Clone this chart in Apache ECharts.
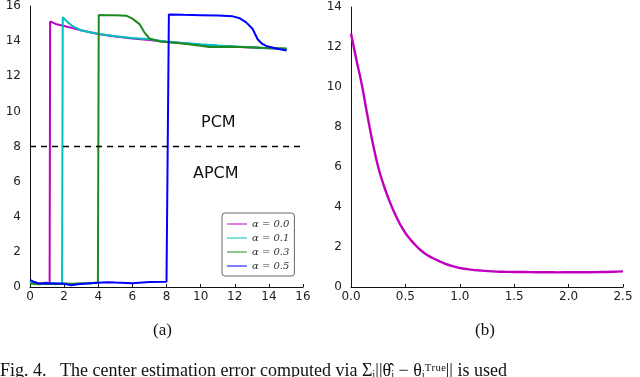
<!DOCTYPE html>
<html><head><meta charset="utf-8">
<script src="https://cdn.jsdelivr.net/npm/echarts@6/dist/echarts.min.js"></script>
<style>html,body{margin:0;padding:0;background:#fff}#c{width:640px;height:377px}</style>
</head><body><div id="c"></div>
<script>
// Left panel (a)
const seriesNames = ['α = 0.0', 'α = 0.1', 'α = 0.3', 'α = 0.5'];
const seriesColors = ['#bf00bf', '#00bfbf', '#1e8a1e', '#0000ff'];
const alpha00 = [[0,0.3],[0.3,0.25],[0.6,0.2],[1.0,0.25],[1.15,0.22],[1.18,15.12],[1.5,14.98],[2.0,14.86],[2.5,14.74],[2.97,14.62],[4,14.4],[5,14.26],[6,14.15],[7,14.07],[8,13.96],[9,13.88],[10,13.8],[11,13.73],[12,13.68],[13,13.64],[14,13.59],[15.04,13.55]];
const alpha01 = [[0,0.3],[0.4,0.2],[0.8,0.18],[1.2,0.22],[1.6,0.2],[1.88,0.2],[1.92,15.37],[2.2,15.08],[2.5,14.85],[2.97,14.62],[3.5,14.5],[4.07,14.4],[5,14.28],[6,14.18],[7,14.1],[8,13.98],[9,13.9],[10,13.82],[11,13.75],[12,13.7],[13,13.65],[14,13.6],[15.04,13.55]];
const alpha03 = [[0,0.2],[0.5,0.15],[1.0,0.18],[1.5,0.15],[2.0,0.2],[2.5,0.18],[3.0,0.22],[3.5,0.2],[3.98,0.25],[4.03,15.49],[4.5,15.48],[5.0,15.48],[5.64,15.45],[6.0,15.28],[6.42,14.97],[6.7,14.5],[7.0,14.15],[7.6,13.98],[8.95,13.87],[10.1,13.72],[10.2,13.64],[10.5,13.66],[10.6,13.72],[11.9,13.68],[13.5,13.62],[15.04,13.58]];
const alpha05 = [[0,0.4],[0.2,0.3],[0.5,0.2],[1.0,0.22],[1.5,0.2],[2.0,0.18],[2.4,0.1],[2.8,0.15],[3.5,0.22],[4.5,0.27],[5.0,0.25],[6.0,0.22],[7.0,0.28],[8.0,0.3],[8.1,0.3],[8.14,15.52],[9,15.5],[10,15.48],[11,15.46],[11.88,15.41],[12.3,15.3],[12.67,15.07],[13.05,14.69],[13.34,14.11],[13.6,13.85],[13.84,13.73],[14.43,13.58],[15.04,13.47]];
const thresholdLine = [[0,8],[16,8]];

// Right panel (b)
const decayX = [0,0.05,0.1,0.15,0.2,0.25,0.3,0.35,0.4,0.45,0.5,0.55,0.6,0.65,0.7,0.75,0.8,0.85,0.9,0.95,1.0,1.1,1.2,1.3,1.4,1.5,1.6,1.7,1.8,1.9,2.0,2.1,2.2,2.3,2.4,2.5];
const decayY = [12.68,11.35,10.1,8.6,7.2,6.0,5.1,4.35,3.7,3.15,2.7,2.35,2.05,1.8,1.6,1.45,1.32,1.2,1.1,1.02,0.95,0.87,0.82,0.78,0.76,0.75,0.75,0.74,0.74,0.73,0.74,0.74,0.74,0.75,0.76,0.78];

const chart = echarts.init(document.getElementById('c'));
const axisLabel = {color:'#222', fontFamily:'DejaVu Sans', fontSize:12};
const axisLine = {show:true, onZero:false, lineStyle:{color:'#111', width:1}};
const axisTick = {show:true, inside:true, length:3, lineStyle:{color:'#111'}};
const data4 = [alpha00, alpha01, alpha03, alpha05];

const series = data4.map((d,i)=>({
  name: seriesNames[i], type:'line', xAxisIndex:0, yAxisIndex:0, data:d,
  symbol:'circle', symbolSize:2, showSymbol:false, animation:false,
  lineStyle:{color:seriesColors[i], width:2}, itemStyle:{color:seriesColors[i]}, z:2+i
}));
series.push({type:'line', xAxisIndex:0, yAxisIndex:0, data:thresholdLine, symbol:'none', animation:false,
  lineStyle:{color:'#000', width:1.5, type:[6,5]}, z:10, silent:true});
series.push({type:'line', xAxisIndex:1, yAxisIndex:1, data:decayX.map((x,i)=>[x,decayY[i]]),
  symbol:'none', smooth:true, animation:false, lineStyle:{color:'#c000c0', width:2.4}});

chart.setOption({
  backgroundColor:'#fff',
  animation:false,
  grid:[
    {left:30, top:6, width:273, height:281},
    {left:351, top:7, width:272, height:280}
  ],
  xAxis:[
    {gridIndex:0, type:'value', min:0, max:16, interval:2, axisLine, axisTick, splitLine:{show:false}, axisLabel:{...axisLabel, margin:4}},
    {gridIndex:1, type:'value', min:0, max:2.5, interval:0.5, axisLine, axisTick, splitLine:{show:false},
      axisLabel:{...axisLabel, margin:4, formatter:v=>v.toFixed(1)}}
  ],
  yAxis:[
    {gridIndex:0, type:'value', min:0, max:16, interval:2, axisLine, axisTick:{show:false}, splitLine:{show:false}, axisLabel:{...axisLabel, margin:9}},
    {gridIndex:1, type:'value', min:0, max:14, interval:2, axisLine, axisTick:{show:false}, splitLine:{show:false}, axisLabel:{...axisLabel, margin:9}}
  ],
  legend:{
    data:seriesNames, orient:'vertical', left:222, top:213, itemGap:4, itemWidth:20, itemHeight:8,
    icon:'path://M0,4 L20,4 L20,5 L0,5 Z',
    padding:[6,5,5,5], borderColor:'#666', borderWidth:1, borderRadius:3,
    textStyle:{fontFamily:'DejaVu Serif', fontStyle:'italic', fontSize:10, color:'#333'}
  },
  graphic:[
    {type:'text', left:201, top:115, style:{text:'PCM', font:'16px "DejaVu Sans"', fill:'#111'}},
    {type:'text', left:193, top:166, style:{text:'APCM', font:'16px "DejaVu Sans"', fill:'#111'}},
    {type:'text', left:153, top:322, style:{text:'(a)', font:'17px "Liberation Serif"', fill:'#111'}},
    {type:'text', left:475, top:322, style:{text:'(b)', font:'17px "Liberation Serif"', fill:'#111'}},
    {type:'text', left:0, top:362, style:{text:'Fig. 4.   The center estimation error computed via Σᵢ||θ̂ᵢ − θᵢᵀʳᵘᵉ|| is used', font:'18px "Liberation Serif"', fill:'#111'}}
  ],
  series
});
</script></body></html>
